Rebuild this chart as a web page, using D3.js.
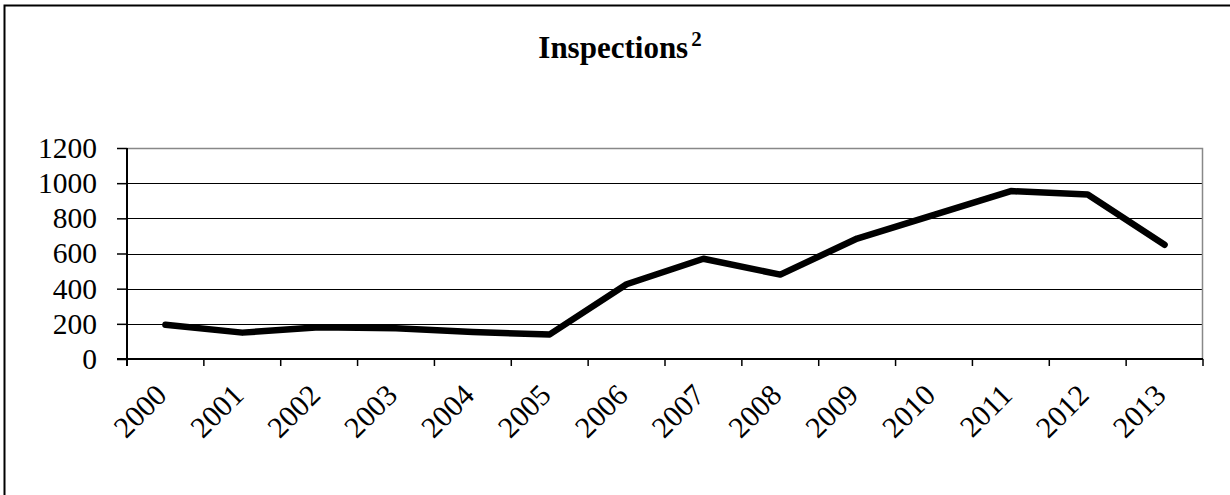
<!DOCTYPE html>
<html>
<head>
<meta charset="utf-8">
<script src="https://d3js.org/d3.v7.min.js"></script>
<style>
  body { margin: 0; background: #fff; }
  text { font-family: "Liberation Serif", "Times New Roman", serif; fill: #000; }
</style>
</head>
<body>
<div id="chart"></div>
<script>
  // data
  var years = ["2000", "2001", "2002", "2003", "2004", "2005", "2006",
               "2007", "2008", "2009", "2010", "2011", "2012", "2013"];
  var inspections = [195, 150, 180, 175, 153, 140, 425, 570, 480, 685, 820, 955, 935, 650];
  var yTicks = [0, 200, 400, 600, 800, 1000, 1200];

  var W = 1230, H = 495;
  var margin = { top: 148, right: 27, bottom: 136, left: 127 };
  var width = W - margin.left - margin.right;
  var height = H - margin.top - margin.bottom;

  var svg = d3.select("#chart")
    .append("svg")
    .attr("width", W)
    .attr("height", H);

  // outer frame (right and bottom edges fall outside the picture)
  svg.append("rect")
    .attr("x", 4.5)
    .attr("y", 5.5)
    .attr("width", W + 10)
    .attr("height", H + 10)
    .attr("fill", "none")
    .attr("stroke", "#000")
    .attr("stroke-width", 2);

  // title
  var title = svg.append("text")
    .attr("x", 620)
    .attr("y", 58)
    .style("text-anchor", "middle")
    .style("font-weight", "bold")
    .style("font-size", "31px");
  title.append("tspan").text("Inspections");
  title.append("tspan")
    .attr("dx", 3)
    .attr("dy", -12)
    .style("font-size", "21px")
    .text("2");

  var g = svg.append("g")
    .attr("transform", "translate(" + margin.left + "," + margin.top + ")");

  var x = d3.scaleBand()
    .domain(years)
    .range([0, width]);

  var y = d3.scaleLinear()
    .domain([0, 1200])
    .range([height, 0]);

  // gridlines
  g.selectAll(".grid")
    .data(yTicks.filter(function(d) { return d > 0 && d < 1200; }))
    .enter().append("line")
    .attr("x1", 0)
    .attr("x2", width)
    .attr("y1", function(d) { return Math.round(y(d)) + 0.5; })
    .attr("y2", function(d) { return Math.round(y(d)) + 0.5; })
    .attr("stroke", "#000")
    .attr("stroke-width", 1);

  // plot area border, top and right in grey
  g.append("path")
    .attr("d", "M0,0.5H" + (width - 0.5) + "V" + height)
    .attr("fill", "none")
    .attr("stroke", "#888")
    .attr("stroke-width", 1.5);

  // y axis
  var yAxis = g.append("g")
    .call(d3.axisLeft(y).tickValues(yTicks).tickFormat(d3.format("d"))
      .tickSize(10).tickPadding(20));
  yAxis.select(".domain").attr("stroke", "#000").attr("stroke-width", 2)
    .attr("d", "M0," + (height + 7) + "V0");
  yAxis.selectAll(".tick line").attr("stroke", "#000").attr("stroke-width", 1.5);
  yAxis.selectAll(".tick text")
    .style("font-family", "'Liberation Serif', serif")
    .style("font-size", "29.5px")
    .attr("fill", "#000");

  // x axis with ticks between categories
  var xAxis = g.append("g")
    .attr("transform", "translate(0," + height + ")");
  xAxis.append("line")
    .attr("x1", -10)
    .attr("x2", width)
    .attr("stroke", "#000")
    .attr("stroke-width", 2);
  xAxis.selectAll(".xtick")
    .data(years)
    .enter().append("line")
    .attr("x1", function(d) { return x(d) + x.bandwidth(); })
    .attr("x2", function(d) { return x(d) + x.bandwidth(); })
    .attr("y1", 0)
    .attr("y2", 7)
    .attr("stroke", "#000")
    .attr("stroke-width", 1.5);
  xAxis.selectAll(".xlabel")
    .data(years)
    .enter().append("text")
    .attr("transform", function(d) {
      return "translate(" + (x(d) + x.bandwidth() / 2 + 3) + "," + 38 + ") rotate(-45)";
    })
    .style("text-anchor", "end")
    .style("font-size", "30px")
    .text(function(d) { return d; });

  // the series
  var line = d3.line()
    .x(function(d, i) { return x(years[i]) + x.bandwidth() / 2; })
    .y(function(d) { return y(d); });

  g.append("path")
    .datum(inspections)
    .attr("fill", "none")
    .attr("stroke", "#000")
    .attr("stroke-width", 6.5)
    .attr("stroke-linecap", "round")
    .attr("stroke-linejoin", "round")
    .attr("d", line);
</script>
</body>
</html>
